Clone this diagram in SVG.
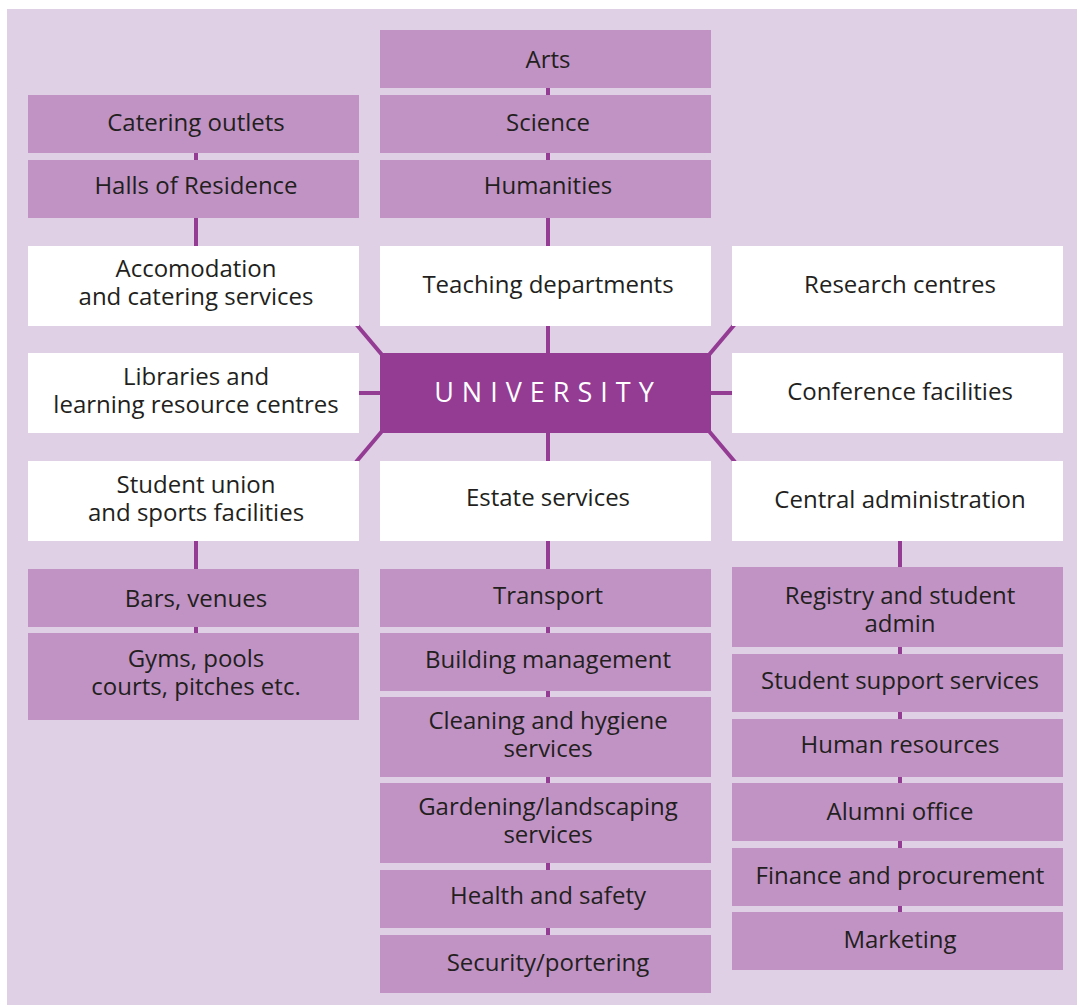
<svg xmlns="http://www.w3.org/2000/svg" width="1077" height="1005" viewBox="0 0 1077 1005">
<style>
.bg{fill:#dfd0e6}
.sub{fill:#c193c5}
.main{fill:#ffffff}
.uni{fill:#943b94}
.t{font-family:"Open Sans","Noto Sans",sans-serif;font-size:24px;fill:#231f20;text-anchor:middle}
.u{font-family:"Open Sans","Noto Sans",sans-serif;font-size:27px;fill:#ffffff;text-anchor:middle;letter-spacing:8px}
.c{stroke:#943b94;stroke-width:4;fill:none}
</style>
<rect class="bg" x="7" y="9" width="1070" height="996"/>
<g id="connectors">
<line class="c" x1="196" y1="150" x2="196" y2="250"/>
<line class="c" x1="548" y1="85" x2="548" y2="570"/>
<line class="c" x1="548" y1="620" x2="548" y2="940"/>
<line class="c" x1="196" y1="535" x2="196" y2="640"/>
<line class="c" x1="900" y1="535" x2="900" y2="915"/>
<line class="c" x1="356" y1="393" x2="385" y2="393"/>
<line class="c" x1="706" y1="393" x2="736" y2="393"/>
<line class="c" x1="356" y1="324" x2="383" y2="356"/>
<line class="c" x1="735" y1="324" x2="708" y2="356"/>
<line class="c" x1="356" y1="462" x2="383" y2="430"/>
<line class="c" x1="735" y1="462" x2="708" y2="430"/>
</g>
<g id="arts"><rect class="sub" x="380" y="30" width="331" height="58"/><text class="t" x="548" y="68">Arts</text></g>
<g id="science"><rect class="sub" x="380" y="95" width="331" height="58"/><text class="t" x="548" y="131">Science</text></g>
<g id="humanities"><rect class="sub" x="380" y="160" width="331" height="58"/><text class="t" x="548" y="194">Humanities</text></g>
<g id="catering"><rect class="sub" x="28" y="95" width="331" height="58"/><text class="t" x="196" y="131">Catering outlets</text></g>
<g id="halls"><rect class="sub" x="28" y="160" width="331" height="58"/><text class="t" x="196" y="194">Halls of Residence</text></g>
<g id="accomodation"><rect class="main" x="28" y="246" width="331" height="80"/><text class="t" x="196" y="277">Accomodation</text><text class="t" x="196" y="305">and catering services</text></g>
<g id="teaching"><rect class="main" x="380" y="246" width="331" height="80"/><text class="t" x="548" y="293">Teaching departments</text></g>
<g id="research"><rect class="main" x="732" y="246" width="331" height="80"/><text class="t" x="900" y="293">Research centres</text></g>
<g id="libraries"><rect class="main" x="28" y="353" width="331" height="80"/><text class="t" x="196" y="385">Libraries and</text><text class="t" x="196" y="413">learning resource centres</text></g>
<g id="university"><rect class="uni" x="380" y="353" width="331" height="80"/><text class="u" x="548" y="402">UNIVERSITY</text></g>
<g id="conference"><rect class="main" x="732" y="353" width="331" height="80"/><text class="t" x="900" y="400">Conference facilities</text></g>
<g id="studentunion"><rect class="main" x="28" y="461" width="331" height="80"/><text class="t" x="196" y="493">Student union</text><text class="t" x="196" y="521">and sports facilities</text></g>
<g id="estate"><rect class="main" x="380" y="461" width="331" height="80"/><text class="t" x="548" y="506">Estate services</text></g>
<g id="central"><rect class="main" x="732" y="461" width="331" height="80"/><text class="t" x="900" y="508">Central administration</text></g>
<g id="bars"><rect class="sub" x="28" y="569" width="331" height="58"/><text class="t" x="196" y="607">Bars, venues</text></g>
<g id="gyms"><rect class="sub" x="28" y="633" width="331" height="87"/><text class="t" x="196" y="667">Gyms, pools</text><text class="t" x="196" y="695">courts, pitches etc.</text></g>
<g id="transport"><rect class="sub" x="380" y="569" width="331" height="58"/><text class="t" x="548" y="604">Transport</text></g>
<g id="building"><rect class="sub" x="380" y="633" width="331" height="58"/><text class="t" x="548" y="668">Building management</text></g>
<g id="cleaning"><rect class="sub" x="380" y="697" width="331" height="80"/><text class="t" x="548" y="729">Cleaning and hygiene</text><text class="t" x="548" y="757">services</text></g>
<g id="gardening"><rect class="sub" x="380" y="783" width="331" height="80"/><text class="t" x="548" y="815">Gardening/landscaping</text><text class="t" x="548" y="843">services</text></g>
<g id="health"><rect class="sub" x="380" y="870" width="331" height="58"/><text class="t" x="548" y="904">Health and safety</text></g>
<g id="security"><rect class="sub" x="380" y="935" width="331" height="58"/><text class="t" x="548" y="971">Security/portering</text></g>
<g id="registry"><rect class="sub" x="732" y="567" width="331" height="80"/><text class="t" x="900" y="604">Registry and student</text><text class="t" x="900" y="632">admin</text></g>
<g id="support"><rect class="sub" x="732" y="654" width="331" height="58"/><text class="t" x="900" y="689">Student support services</text></g>
<g id="hr"><rect class="sub" x="732" y="719" width="331" height="58"/><text class="t" x="900" y="753">Human resources</text></g>
<g id="alumni"><rect class="sub" x="732" y="783" width="331" height="58"/><text class="t" x="900" y="820">Alumni office</text></g>
<g id="finance"><rect class="sub" x="732" y="848" width="331" height="58"/><text class="t" x="900" y="884">Finance and procurement</text></g>
<g id="marketing"><rect class="sub" x="732" y="912" width="331" height="58"/><text class="t" x="900" y="948">Marketing</text></g>
</svg>
